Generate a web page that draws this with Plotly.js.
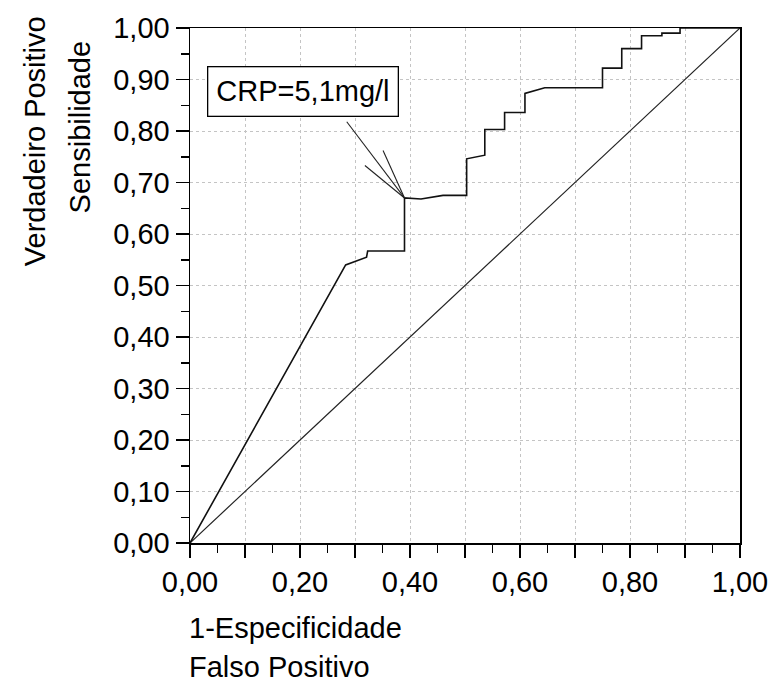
<!DOCTYPE html>
<html><head><meta charset="utf-8">
<script src="https://cdn.plot.ly/plotly-3.0.1.min.js"></script>
<style>html,body{margin:0;padding:0;background:#fff}#chart{width:773px;height:684px}</style>
</head><body><div id="chart"></div>
<script>
// ROC curve (1-Especificidade vs Sensibilidade)
const rocX = [0, 0.283, 0.321, 0.323, 0.39, 0.39, 0.42, 0.46, 0.503, 0.503, 0.536, 0.536, 0.572, 0.572, 0.609, 0.609, 0.645, 0.75, 0.75, 0.785, 0.785, 0.821, 0.821, 0.858, 0.858, 0.891, 0.891, 1];
const rocY = [0, 0.540, 0.555, 0.567, 0.567, 0.670, 0.668, 0.675, 0.675, 0.746, 0.753, 0.803, 0.803, 0.836, 0.836, 0.873, 0.884, 0.884, 0.922, 0.922, 0.960, 0.960, 0.985, 0.985, 0.99, 0.99, 1, 1];
// reference diagonal
const diagX = [0, 1];
const diagY = [0, 1];
// cut-off point annotation
const cutLabel = "CRP=5,1mg/l";
const cutPoint = [0.39, 0.670];
const pointerEnds = [[0.285, 0.818], [0.318, 0.733], [0.351, 0.762]];
// tick labels
const xTickVals = [0, 0.1, 0.2, 0.3, 0.4, 0.5, 0.6, 0.7, 0.8, 0.9, 1.0];
const xTickText = ["0,00", "", "0,20", "", "0,40", "", "0,60", "", "0,80", "", "1,00"];
const yTickVals = [0, 0.1, 0.2, 0.3, 0.4, 0.5, 0.6, 0.7, 0.8, 0.9, 1.0];
const yTickText = ["0,00", "0,10", "0,20", "0,30", "0,40", "0,50", "0,60", "0,70", "0,80", "0,90", "1,00"];

const FONT = "Liberation Sans, Arial, sans-serif";
const FS = 29;
const traces = [
  {x: diagX, y: diagY, mode: "lines", line: {color: "#222", width: 1.2}, hoverinfo: "skip"},
  {x: rocX, y: rocY, mode: "lines", line: {color: "#111", width: 1.6}, hoverinfo: "skip"}
];
const shapes = pointerEnds.map(p => ({type: "line", xref: "x", yref: "y",
  x0: cutPoint[0], y0: cutPoint[1], x1: p[0], y1: p[1], line: {color: "#222", width: 1.1}}));

const axisCommon = {
  range: [0, 1], tickmode: "array",
  ticks: "outside", ticklen: 13, tickwidth: 1.5, tickcolor: "#000",
  showline: true, linecolor: "#000", linewidth: 1.5, mirror: true,
  showgrid: true, gridcolor: "#c4c4c4", griddash: "dot", gridwidth: 1, zeroline: false,
  minor: {dtick: 0.05, ticks: "outside", ticklen: 8, tickwidth: 1.5, tickcolor: "#000", showgrid: false},
  tickfont: {size: FS, family: FONT, color: "#000"}, fixedrange: true
};
const layout = {
  width: 773, height: 684,
  margin: {l: 190, r: 33, t: 28, b: 141},
  paper_bgcolor: "#fff", plot_bgcolor: "#fff",
  showlegend: false,
  font: {family: FONT, color: "#000", size: FS},
  xaxis: Object.assign({}, axisCommon, {tickvals: xTickVals, ticktext: xTickText}),
  yaxis: Object.assign({}, axisCommon, {tickvals: yTickVals, ticktext: yTickText}),
  shapes: shapes,
  annotations: [
    {text: cutLabel, xref: "paper", yref: "paper", x: 0.031, y: 0.877, xanchor: "left", yanchor: "middle",
      showarrow: false, font: {size: FS, family: FONT}, bordercolor: "#000", borderwidth: 1.3,
      borderpad: 8, bgcolor: "#fff"},
    {text: "Verdadeiro Positivo", xref: "paper", yref: "paper", x: -0.282, y: 0.78,
      xanchor: "center", yanchor: "middle", textangle: -90, showarrow: false, font: {size: FS, family: FONT}},
    {text: "Sensibilidade", xref: "paper", yref: "paper", x: -0.2, y: 0.807,
      xanchor: "center", yanchor: "middle", textangle: -90, showarrow: false, font: {size: FS, family: FONT}},
    {text: "1-Especificidade", xref: "paper", yref: "paper", x: -0.005, y: -0.165,
      xanchor: "left", yanchor: "middle", showarrow: false, font: {size: FS, family: FONT}},
    {text: "Falso Positivo", xref: "paper", yref: "paper", x: -0.005, y: -0.24,
      xanchor: "left", yanchor: "middle", showarrow: false, font: {size: FS, family: FONT}}
  ]
};
Plotly.newPlot("chart", traces, layout, {staticPlot: true, displayModeBar: false});
</script></body></html>
